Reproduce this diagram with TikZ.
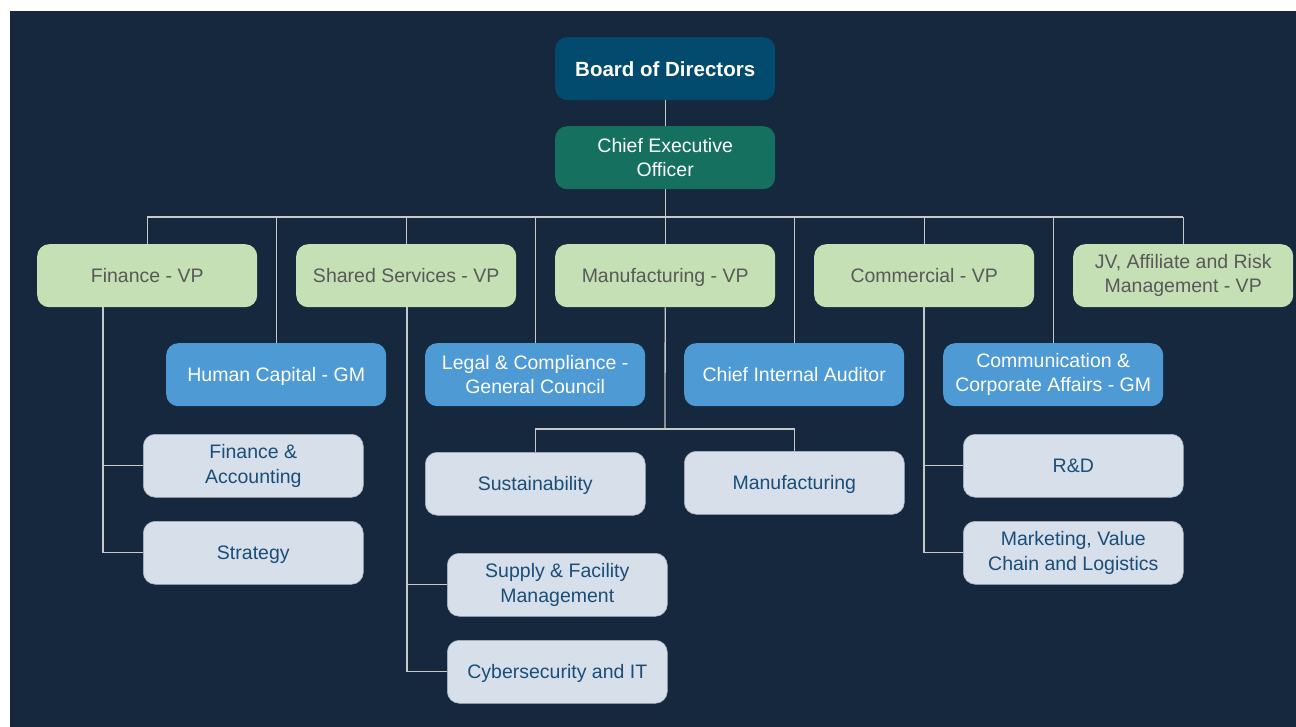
\documentclass[tikz,border=0pt]{standalone}
\usepackage{fontspec}
\setmainfont{Liberation Sans}
\definecolor{bgdark}{HTML}{15283D}
\definecolor{boardc}{HTML}{024A6E}
\definecolor{ceoc}{HTML}{15705F}
\definecolor{vpc}{HTML}{C5E0B4}
\definecolor{vptext}{HTML}{595959}
\definecolor{gmc}{HTML}{4E9AD5}
\definecolor{leafc}{HTML}{D6DFEA}
\definecolor{leaftext}{HTML}{1A4E78}
\definecolor{linec}{HTML}{C8C8C8}
\begin{document}
\begin{tikzpicture}[x=1pt,y=-1pt,
  box/.style={rectangle, rounded corners=12pt, minimum width=220pt, minimum height=63pt,
    align=center, inner sep=2pt,
    font=\fontsize{19.5}{24.5}\selectfont, anchor=north west},
  oneline/.style={text height=16pt, text depth=2pt},
  topbox/.style={box, fill=boardc, text=white, font=\fontsize{20.5}{24.5}\selectfont\bfseries,
    text height=17pt, text depth=2.3pt},
  ceobox/.style={box, fill=ceoc, text=white},
  vpbox/.style={box, fill=vpc, text=vptext},
  gmbox/.style={box, fill=gmc, text=white},
  leafbox/.style={box, fill=leafc, text=leaftext, draw=leafc!80!black, line width=0.6pt},
  conn/.style={draw=linec, line width=1.3pt}
]
\useasboundingbox (0,0) rectangle (1296,727);
\fill[white] (0,0) rectangle (1296,727);
\fill[bgdark] (10,11) rectangle (1296,727);

% top
\node[topbox] (board) at (555,37) {Board of Directors};
\node[ceobox] (ceo) at (555,126) {Chief Executive\\Officer};

% VPs
\node[vpbox, oneline] (fin) at (37,244) {Finance - VP};
\node[vpbox, oneline] (ss) at (296,244) {Shared Services - VP};
\node[vpbox, oneline] (man) at (555,244) {Manufacturing - VP};
\node[vpbox, oneline] (com) at (814,244) {Commercial - VP};
\node[vpbox] (jv) at (1073,244) {JV, Affiliate and Risk\\Management - VP};

% GMs
\node[gmbox, oneline] (hc) at (166,343) {Human Capital - GM};
\node[gmbox] (leg) at (425,343) {Legal \& Compliance -\\General Council};
\node[gmbox, oneline] (cia) at (684,343) {Chief Internal Auditor};
\node[gmbox] (cca) at (943,343) {Communication \&\\Corporate Affairs - GM};

% leaves
\node[leafbox] (facc) at (143,434) {Finance \&\\Accounting};
\node[leafbox, oneline] (strat) at (143,521) {Strategy};
\node[leafbox] (sfm) at (447,553) {Supply \& Facility\\Management};
\node[leafbox, oneline] (cyb) at (447,640) {Cybersecurity and IT};
\node[leafbox, oneline] (sus) at (425,452) {Sustainability};
\node[leafbox, oneline] (mfg) at (684,451) {Manufacturing};
\node[leafbox, oneline] (rd) at (963,434) {R\&D};
\node[leafbox] (mkt) at (963,521) {Marketing, Value\\Chain and Logistics};

% connectors
\coordinate (busl) at (147,217);
\coordinate (busr) at (1183,217);
\coordinate (finT) at (103,307);
\coordinate (ssT) at (407,307);
\coordinate (comT) at (924,307);
\coordinate (manJ) at (665,429);

\draw[conn] (board.south) -- (ceo.north);
\draw[conn] (ceo.south) -- (ceo.south |- busl);
\draw[conn] (busl) -- (busr);
\foreach \n in {fin,ss,man,com,jv,hc,leg,cia,cca}
  \draw[conn] (\n.north) -- (\n.north |- busl);
\draw[conn] (finT) |- (facc.west);
\draw[conn] (finT) |- (strat.west);
\draw[conn] (ssT) |- (sfm.west);
\draw[conn] (ssT) |- (cyb.west);
\draw[conn] (comT) |- (rd.west);
\draw[conn] (comT) |- (mkt.west);
\draw[conn] (man.south) -- (manJ);
\draw[conn] (manJ) -| (sus.north);
\draw[conn] (manJ) -| (mfg.north);
\end{tikzpicture}
\end{document}
